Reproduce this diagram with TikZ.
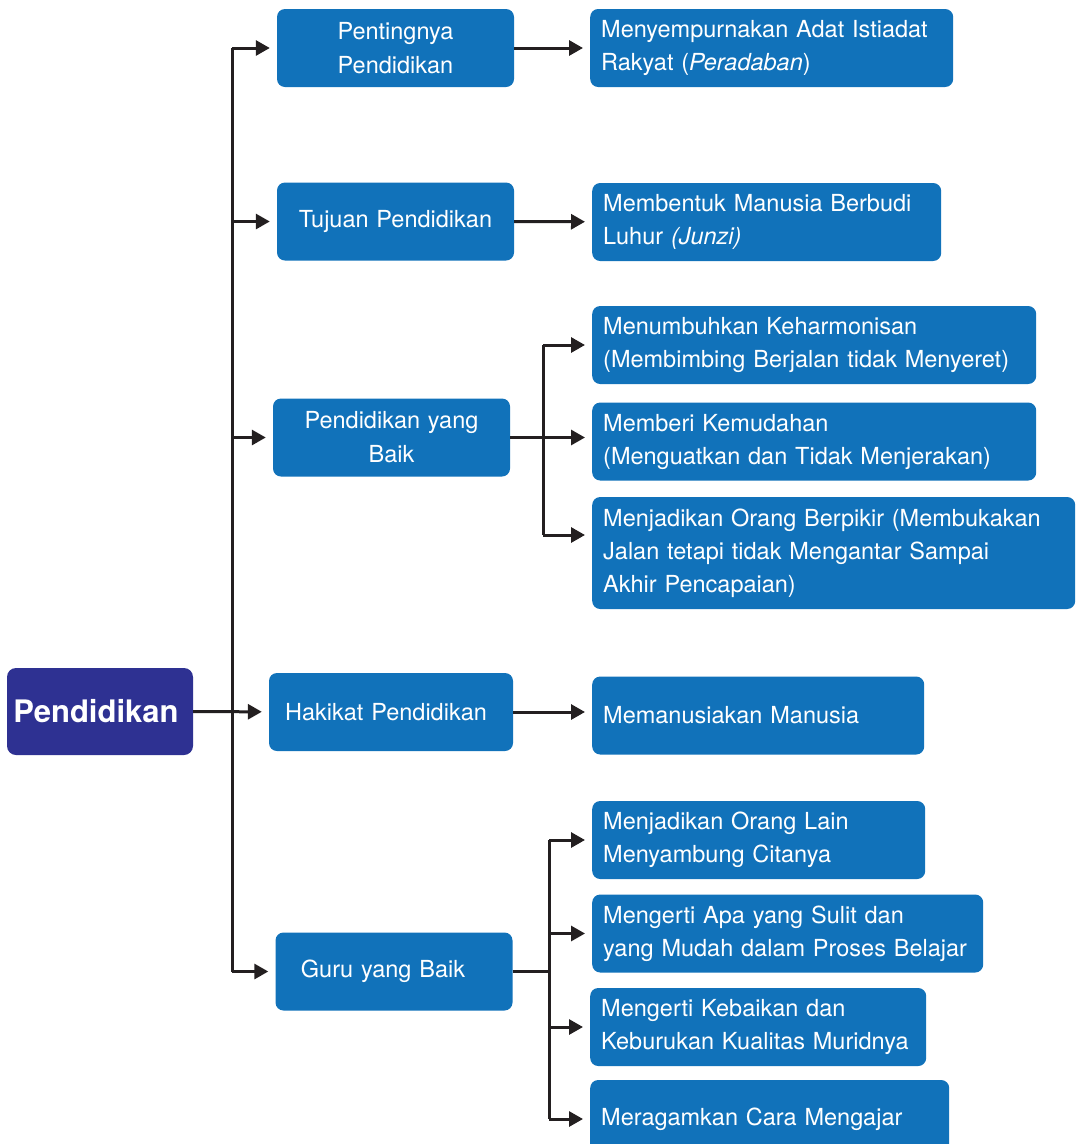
\documentclass[tikz,border=0pt]{standalone}
\usepackage{fontspec}
\setmainfont{TeX Gyre Heros}
\usepackage{xcolor}
\usepackage{tikz}
\usetikzlibrary{shapes,arrows.meta}
\usetikzlibrary{positioning}
\definecolor{boxblue}{RGB}{17,114,186}
\definecolor{rootblue}{RGB}{46,49,146}
\definecolor{linegray}{RGB}{35,31,32}
\tikzstyle{root} = [rectangle, fill=rootblue, text=white, rounded corners=9pt,
    minimum width=186pt, minimum height=87pt, inner sep=0pt,
    font=\fontsize{31}{36}\selectfont\bfseries]
\tikzstyle{topic} = [rectangle, fill=boxblue, text=white, rounded corners=8pt,
    text width=225pt, align=center, minimum height=78pt, inner xsep=6pt,
    font=\fontsize{23.5}{34}\selectfont]
\tikzstyle{point} = [rectangle, fill=boxblue, text=white, rounded corners=8pt,
    align=left, minimum height=78pt, inner xsep=11pt, anchor=west,
    font=\fontsize{23.5}{33}\selectfont]
\tikzstyle{wire} = [draw=linegray, line width=3pt]
\tikzstyle{link} = [wire, -{Triangle[length=14pt,width=15pt]}, shorten >=7pt]

\begin{document}
\hyphenpenalty=10000\relax
\begin{tikzpicture}[x=1pt, y=-1pt]
  \path[use as bounding box] (0,0) rectangle (1076,1144);
  \clip (0,0) rectangle (1076,1144);

  % Place nodes
  \node [root] (root) at (100,711.5) {Pendidikan\hspace*{8pt}};

  \node [topic] (pent) at (395.5,48) {Pentingnya\\Pendidikan};
  \node [topic] (tujuan) at (395.5,221.5) {Tujuan Pendidikan};
  \node [topic] (baik) at (391.5,437.5) {Pendidikan yang\\Baik};
  \node [topic, text width=232pt] (hakikat) at (391,712) {Hakikat Pendidikan\hspace*{10pt}};
  \node [topic] (guru) at (394,971.5) {Guru yang Baik\hspace*{22pt}};

  \node [point, text width=341pt] (adat) at (590,48)
    {Menyempurnakan Adat Istiadat\\Rakyat (\emph{Peradaban})};
  \node [point, text width=327pt] (budi) at (592,222)
    {Membentuk Manusia Berbudi\\Luhur \emph{(Junzi)}};
  \node [point, text width=422pt] (harmoni) at (592,345)
    {Menumbuhkan Keharmonisan\\(Membimbing Berjalan tidak Menyeret)};
  \node [point, text width=422pt] (mudah) at (592,441.5)
    {Memberi Kemudahan\\(Menguatkan dan Tidak Menjerakan)};
  \node [point, text width=461pt, minimum height=112pt] (pikir) at (592,553)
    {Menjadikan Orang Berpikir (Membukakan\\Jalan tetapi tidak Mengantar Sampai\\Akhir Pencapaian)};
  \node [point, text width=310pt] (manusia) at (592,715.5) {Memanusiakan Manusia};
  \node [point, text width=311pt] (cita) at (592,840)
    {Menjadikan Orang Lain\\Menyambung Citanya};
  \node [point, text width=369pt] (sulit) at (592,933.5)
    {Mengerti Apa yang Sulit dan\\yang Mudah dalam Proses Belajar};
  \node [point, text width=314pt] (murid) at (590,1027)
    {Mengerti Kebaikan dan\\Keburukan Kualitas Muridnya};
  \node [point, text width=337pt] (ragam) at (590,1119) {Meragamkan Cara Mengajar};

  \coordinate (fork) at (232,0);
  \coordinate (forkbaik) at (543,0);
  \coordinate (forkguru) at (549,0);
  \coordinate (pikirin) at (543,535);

  % Connectors
  \path [wire] (fork |- pent) -- (fork |- guru);
  \path [link] (root) -- (hakikat);
  \path [link] (fork |- pent) -- (pent);
  \path [link] (fork |- tujuan) -- (tujuan);
  \path [link] (fork |- baik) -- (baik);
  \path [link] (fork |- guru) -- (guru);

  \path [link] (pent) -- (adat);
  \path [link] (tujuan) -- (budi);
  \path [link] (hakikat.east) -- (hakikat.east -| manusia.west);

  \path [wire] (baik.east) -- (forkbaik |- baik);
  \path [wire] (forkbaik |- harmoni) -- (pikirin);
  \path [link] (forkbaik |- harmoni) -- (harmoni);
  \path [link] (forkbaik |- baik) -- (baik -| mudah.west);
  \path [link] (pikirin) -- (pikirin -| pikir.west);

  \path [wire] (guru.east) -- (forkguru |- guru);
  \path [wire] (forkguru |- cita) -- (forkguru |- ragam);
  \path [link] (forkguru |- cita) -- (cita);
  \path [link] (forkguru |- sulit) -- (sulit);
  \path [link] (forkguru |- murid) -- (murid);
  \path [link] (forkguru |- ragam) -- (ragam);

\end{tikzpicture}
\end{document}
